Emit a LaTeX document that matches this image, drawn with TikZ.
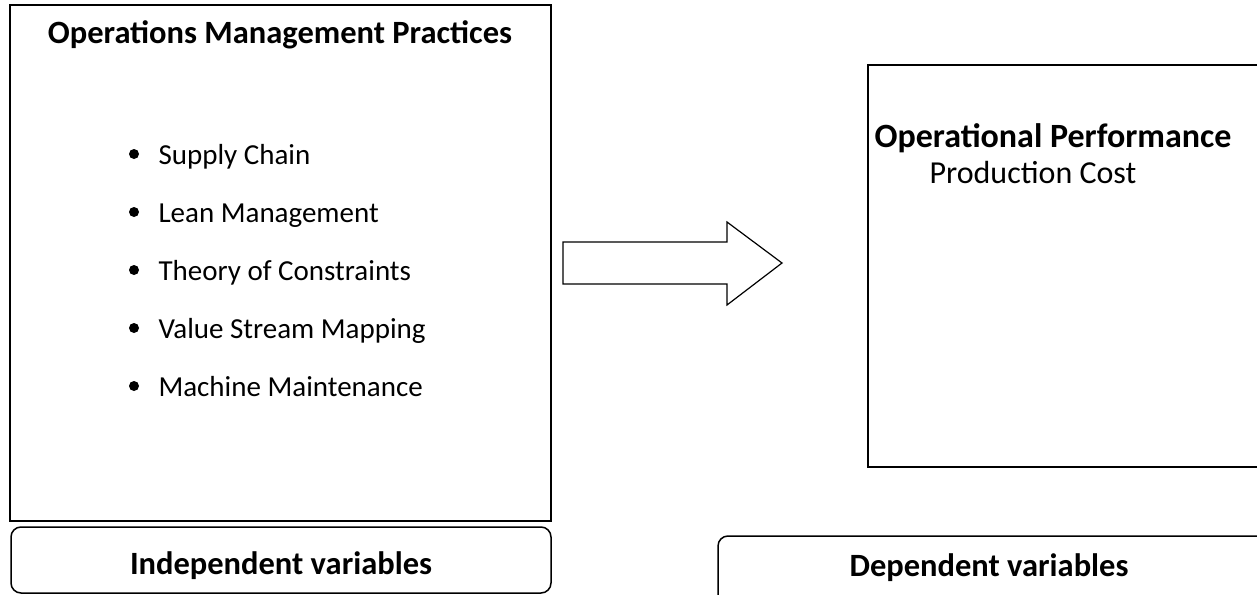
\documentclass[tikz,border=0pt]{standalone}
\usepackage{fontspec}
\setmainfont{Carlito}
\begin{document}
\begin{tikzpicture}[x=1pt,y=-1pt,
  frame/.style={draw=black,line width=1.5pt},
  tag/.style={draw=black,line width=1.5pt,rounded corners=10pt},
  head/.style={font=\fontsize{32.5}{38}\selectfont\bfseries,anchor=base},
  item/.style={font=\fontsize{29}{34}\selectfont,anchor=base west},
  plain/.style={font=\fontsize{32}{37}\selectfont,anchor=base},
  dot/.style={circle,fill=black,inner sep=0pt,minimum size=10pt}]
  \useasboundingbox (0,0) rectangle (1257,594);
  \clip (0,0) rectangle (1257,594);

  % independent side
  \draw[frame] (10,5) rectangle (551,521);
  \node[head] (title) at (280,44) {Operations Management Practices};
  \foreach \t [count=\i] in {Supply Chain,Lean Management,Theory of Constraints,Value Stream Mapping,Machine Maintenance}{
    \node[item] (it\i) at (155,{106+58*\i}) {\t};
    \node[dot] (bu\i) at (134,{96+58*\i}) {};
  }
  \draw[tag] (11,527) rectangle (551,593);
  \node[head] (indep) at (281,574) {Independent variables};

  % block arrow between the two sides
  \draw[line width=1.2pt,line join=miter]
    (563,242) -- (727,242) -- (727,222) -- (782,263) -- (727,305) -- (727,284) -- (563,284) -- cycle;

  % dependent side
  \draw[frame] (868,65) rectangle (1270,467);
  \node[head,font=\fontsize{34}{40}\selectfont\bfseries] (perf) at (1053,147) {Operational Performance};
  \node[plain] (cost) at (1033,183) {Production Cost};
  \draw[tag] (718,536) rectangle (1270,610);
  \node[head] (dep) at (989,576) {Dependent variables};
\end{tikzpicture}
\end{document}
